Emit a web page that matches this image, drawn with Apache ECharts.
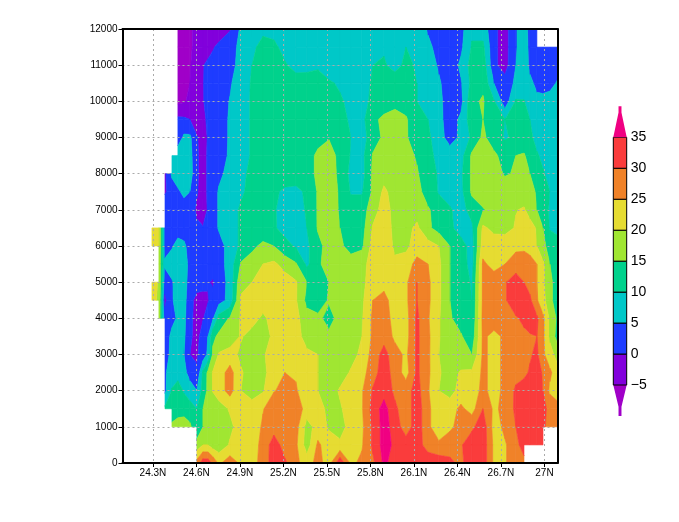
<!DOCTYPE html>
<html><head><meta charset="utf-8">
<style>html,body{margin:0;padding:0;background:#fff}#c{width:679px;height:522px}</style>
<script src="https://cdn.jsdelivr.net/npm/echarts@6/dist/echarts.min.js"></script></head>
<body><div id="c"></div>
<script>
const N = null;
const lons = [24.293,24.341,24.383,24.431,24.472,24.514,24.555,24.603,24.645,24.679,24.714,24.755,24.831,24.907,24.983,25.059,25.134,25.210,25.286,25.362,25.438,25.514,25.590,25.666,25.741,25.817,25.893,25.969,26.045,26.121,26.197,26.272,26.348,26.424,26.500,26.576,26.652,26.728,26.803,26.859,26.900,26.948,26.990,27.038,27.090];
const heights = [12000,11500,11000,10500,10000,9500,9000,8500,8000,7500,7000,6500,6000,5500,5000,4500,4000,3500,3000,2500,2000,1500,1000,500,0];
const lonTicks = [24.3,24.6,24.9,25.2,25.5,25.8,26.1,26.4,26.7,27.0];
const levels = [-5,0,5,10,15,20,25,30,35];
const bandColors = ['#A000C8','#8200DC','#1E3CFF','#00C8C8','#00D28C','#A0E632','#E6DC32','#F08228','#FA3C3C','#F00082'];

const h12000 = [N,N,N,N,-7,-7,-6,-3,-2.5,-2,-2,-2,-0.5,6,8,9,8.5,8,8,8,8,8,8,8,8,8.5,8.5,8,9,8,4.5,2,2,3.5,9,8,1,-2,4.5,8,3,1,N,N,N];
const h11500 = [N,N,N,N,-7,-7,-6,-3,-2.2,-1.5,-0.3,0.8,3.5,6,9,11.5,11,8.5,8,8,8,8,8,8,8.5,9.5,9.5,8.5,10,9,6,3.5,3,4,10.5,11,1,-2,4.5,8,3.5,2,2,2,3];
const h11000 = [N,N,N,N,-7,-6.5,-5.5,-1,-0.2,0.8,1.2,2,4,6,10,12.5,12.5,10.5,8.5,9,9.5,8,8,8,8.5,10,10.5,8.5,11,9.5,7,4.5,2,6,12,13,1,-2,5,8,4,2,2,2,3];
const h10500 = [N,N,N,N,-7,-6,-5,-1,-0.2,1.5,2,3,4.5,7.5,10.5,12,12.5,12.5,12,11.5,11.5,10.5,9.5,8,8.5,10.5,12,12.5,12,10,8,5.5,3,4.5,11.5,14,5,2,6,8,6,4,3,3.5,5.5];
const h10000 = [N,N,N,N,-6,-5.5,-4,-1.5,-0.2,1,2,3,5.2,8,10.5,12,13,13,12.5,12,11,10.5,10.5,9,8.5,11,12.5,13,13,10,8.5,6,3,3.5,14,15.5,10.5,2,10.5,10.2,8,6,6.5,7,7.5];
const h9500  = [N,N,N,N,1,0.8,0,-2,-0.7,0.5,1.5,3,5.5,8,10.5,12.5,13,13,13,12.5,12,11.5,11,9.5,8.5,14,16,17.5,15.5,12,10,6.5,2.5,6,13,15,12,10,11.5,11.5,10,8,7.5,7.5,7.5];
const h9000  = [N,N,N,N,2,6,6,0.3,-1.5,0.3,1.5,3,5.5,8,10.5,12.5,13,13,13.5,13.5,14.2,14.8,11,10,8,12.5,16,17.5,15.5,12.5,11,7,3,6,11,16,12.5,9.5,11,12,11,8.5,8,8.5,7.5];
const h8500  = [N,N,N,7.5,8.5,8.5,7,0.5,-1.5,0.5,2,3.5,5.5,8,10.5,12.5,13,13,13.5,14,15.5,16.5,14,9.5,8.5,15.5,17,17.5,16.5,14.5,11,9,7.5,8,16,17.5,16,13,15,15.5,13,10.5,9,8,8];
const h8000  = [N,N,-1,6,8.5,9,7.5,0.5,-1.5,0.5,2,4,6.5,9,11,12.5,13,13,13,14,15.5,17,14,8.5,8,16,18,18,18,15.5,12,9.5,8,9,16,18,17,14.5,15.5,16.5,15,12,10.5,8.5,8];
const h7500  = [N,N,-0.5,2,4,6.5,5,0.3,-1.5,0.5,3,5.5,7.5,9.5,11,12,11,9,8.5,11,15.5,17,14.5,9.5,9.5,16,21,18,18,16.5,13,9.5,8,8.5,16,18,18,18,17.5,17.5,16.5,14.5,12,10,8];
const h7000  = [N,N,3,3,2.5,2,1.5,-0.5,-1.5,0.3,3,5.5,8.5,10.5,11,11.5,10.5,8,8,10.5,15.5,17.5,14.5,12.5,12.5,18,22,18.5,18,18,15.5,13,10.5,8,12,14.5,17.5,18.5,19.8,20.5,18,15,12,9.5,8];
const h6500  = [22,20,3,2.5,2.5,2.5,2,0.5,0.2,1.5,3,5.5,8.5,10.5,11.5,12,10.5,8.5,8,10,15.5,18,15,12.5,13,20.5,22,19,18.5,21,16,13,11,8,9,21,18.5,18,20.5,22.5,22,19.5,15,9.5,8];
const h6000  = [22,20,3,4.5,7,6,3,2.5,2.5,2.5,3,3,7,11,14,16,15,11.5,9.5,9,13.5,17,16,13,14,22,23.5,19,19,22,22,20,15,12,8,22.5,23,23.5,24,24,23,20,16,13.5,13];
const h5500  = [N,18,6,7.5,7.5,6.5,4,3,2.5,2.5,2.5,3,7,15.5,17,20,21,18,15.5,9,14,17.5,17.5,17.5,18.5,22,23,21,22,27,25,21,15,12.5,8,26,23,25,27,27.5,27,25,21,15,13];
const h5000  = [22,19.5,2,4.5,7.5,6.5,3.5,2,1.5,0.3,-0.5,2.5,6.5,19,20,21.5,22,22.5,20.5,15,13.5,15,17,17.5,19,22,23,22.5,24,30,26,21,15,12.5,9.5,26,28,29.5,33,30,28,25,21,16,13];
const h4500  = [22,19,-1,4.5,7,7,1.5,-1.5,-1.5,-0.3,1.5,3,6.5,20.5,22,22.5,23,23,20.5,13.5,12.5,15.5,17,17.5,19,25,27,22,24,30,26,21,15,12.5,10,26,28,29.5,33,33,31,25.5,22,16,13];
const h4000  = [N,18,2,4,5.5,6.5,1,-1.5,-0.2,1.5,4.5,12,15.5,20.5,22,19,22,23,21.5,17,16,13.5,16.5,17.5,19.5,26,27.5,23,23,31,25.5,20.5,15.5,13,10.5,26.5,28,28.5,29.5,31,32.5,31,26,19,14];
const h3500  = [N,N,3,6,7,6,0.5,-1,1.5,5,14,16,17,20.5,18,18,21,22.5,22,18,17.5,16,17,17.5,20,26,28,24,23,31,26,20.5,15.5,15.5,12,26,23.5,26,27.5,29,29.5,30,26,19,13];
const h3000  = [N,N,3.5,6,7,5,0,-0.5,2,6,16,20.5,22,19,18,19.5,22,23,21.5,21,20,18,17.5,18.5,21,27,32,27,24,31,26,20,17,17,15,26,23.5,26,27.5,28.5,29.5,31,26,22,18];
const h2500  = [N,N,4.5,7,7.5,6.5,3,0.5,11,16,20.5,22.5,27,20.5,18,19,22,25,24.5,22,20,18,18,20.5,23,28,32.5,28,23,31,26,20.5,18,20.5,21,26,23.5,26,28,29,30.5,32,29.5,26,22];
const h2000  = [N,N,4,10.5,13,9.5,7.5,5,12,16,20.3,22.5,27,20,18,19.5,24.8,26,25.5,22,20,18,20.5,22,24.5,30.5,33,29,28,32,25.5,20,18,22,23,26,23.5,26,31,32,33,32,30,24,21];
const h1500  = [N,N,11,12,13,13,12,10,15,16.5,17,18,20.5,20.5,22,24.8,27,28,28,23,21.5,19,19.5,22,24.5,32,37,31,27,33,26,22,23,26,23,30,24,26.5,31,33,33,32.5,31,29,28];
const h1000  = [N,N,N,16,17,17.5,16,11,15,17.5,18,18.5,19,22,23,25.5,27.5,28,27,18,22,19.5,18,22,24,31,37,33,27,33,26,22,24,27,29,33,23,26,30,33,33,33,31,28,28];
const h500   = [N,N,N,N,N,N,N,17,20,20,17.5,17,20.5,22.5,23.5,26,33,27.5,26,17.5,26,22,21,22.5,24.5,31,37,34,33,32,28,26,28,29.5,33,33,24,24.5,28,33,33,33,32,N,N];
const h0     = [N,N,N,N,N,N,N,27,33,33,29,24,28,24,23.5,26.5,33,31,26,23,26.5,23,34,24,26,29,36,33,33,33,33,33,31,29,33,33,24,24.5,28,28,N,N,N,N,N];
const speed = [h12000,h11500,h11000,h10500,h10000,h9500,h9000,h8500,h8000,h7500,h7000,h6500,h6000,h5500,h5000,h4500,h4000,h3500,h3000,h2500,h2000,h1500,h1000,h500,h0];

const cells = [];
for (let r = 0; r < heights.length - 1; r++) {
  for (let c = 0; c < lons.length - 1; c++) {
    const a = speed[r][c], b = speed[r][c+1], d = speed[r+1][c+1], e = speed[r+1][c];
    if (a === N || b === N || d === N || e === N) continue;
    cells.push([lons[c], lons[c+1], heights[r], heights[r+1], a, b, d, e]);
  }
}
function clip(poly, limit, keepAbove) {
  const out = [];
  for (let i = 0; i < poly.length; i++) {
    const p = poly[i], q = poly[(i+1) % poly.length];
    const pin = keepAbove ? p[2] >= limit : p[2] <= limit;
    const qin = keepAbove ? q[2] >= limit : q[2] <= limit;
    if (pin) out.push(p);
    if (pin !== qin) {
      const t = (limit - p[2]) / (q[2] - p[2]);
      out.push([p[0] + t*(q[0]-p[0]), p[1] + t*(q[1]-p[1]), limit]);
    }
  }
  return out;
}
function renderCell(params, api) {
  const x0 = api.value(0), x1 = api.value(1), y0 = api.value(2), y1 = api.value(3);
  const tl = api.coord([x0,y0]), tr = api.coord([x1,y0]), br = api.coord([x1,y1]), bl = api.coord([x0,y1]);
  const quad = [[tl[0],tl[1],api.value(4)],[tr[0],tr[1],api.value(5)],[br[0],br[1],api.value(6)],[bl[0],bl[1],api.value(7)]];
  const children = [];
  for (let b = 0; b < bandColors.length; b++) {
    const lo = b === 0 ? -1e3 : levels[b-1];
    const hi = b === levels.length ? 1e3 : levels[b];
    let poly = clip(quad, lo, true);
    if (poly.length) poly = clip(poly, hi, false);
    if (poly.length > 2) children.push({type:'polygon', shape:{points:poly.map(p=>[p[0],p[1]])},
      style:{fill:bandColors[b], stroke:bandColors[b], lineWidth:0.6}, silent:true});
  }
  return {type:'group', children};
}
function renderKey(params, api) {
  const lo = api.value(0), hi = api.value(1), color = bandColors[api.value(2)];
  const pt = (x, v) => api.coord([x, v]);
  if (lo < -5) {
    return {type:'polygon', shape:{points:[pt(0,-5),pt(0.39,-8.5),pt(0.39,-10),pt(0.61,-10),pt(0.61,-8.5),pt(1,-5)]}, style:{fill:color}};
  }
  if (hi > 35) {
    return {type:'polygon', shape:{points:[pt(0,35),pt(0.39,39),pt(0.39,40),pt(0.61,40),pt(0.61,39),pt(1,35)]}, style:{fill:color}};
  }
  const a = pt(0,hi), b = pt(1,lo);
  return {type:'rect', shape:{x:a[0], y:a[1], width:b[0]-a[0], height:b[1]-a[1]}, style:{fill:color, stroke:'#000', lineWidth:1}};
}
const keyData = bandColors.map((c,i) => [i === 0 ? -10 : levels[i-1], i === levels.length ? 40 : levels[i], i]);
const tickFont = {fontFamily:'Liberation Sans', fontSize:10, color:'#000'};
const chart = echarts.init(document.getElementById('c'), null, {renderer:'canvas'});
chart.setOption({
  animation:false, backgroundColor:'#fff',
  grid:[
    {left:122.5, top:29, width:435, height:434},
    {left:613.3, top:137.3, width:13.4, height:247.7}
  ],
  xAxis:[
    {type:'value', min:24.09, max:27.09, z:5, gridIndex:0, position:'bottom',
     axisLine:{onZero:false, lineStyle:{color:'#000', width:2}},
     axisTick:{show:true, length:4, customValues:lonTicks, lineStyle:{color:'#000'}},
     axisLabel:{...tickFont, margin:5, customValues:lonTicks, formatter:v => (Number(v) === 27 ? '27' : Number(v).toFixed(1)) + 'N'},
     splitLine:{show:true, lineStyle:{color:'#aaa', type:[2,3], width:1}}},
    {type:'value', min:24.09, max:27.09, z:5, gridIndex:0, position:'top',
     axisLine:{onZero:false, lineStyle:{color:'#000', width:2}}, axisTick:{show:false}, axisLabel:{show:false}, splitLine:{show:false}},
    {type:'value', min:0, max:1, gridIndex:1, show:false}
  ],
  yAxis:[
    {type:'value', min:0, max:12000, interval:1000, z:5, gridIndex:0, position:'left',
     axisLine:{onZero:false, lineStyle:{color:'#000', width:2}},
     axisTick:{show:true, length:4, lineStyle:{color:'#000'}},
     axisLabel:{...tickFont, margin:5, formatter:v => String(v)},
     splitLine:{show:true, lineStyle:{color:'#aaa', type:[2,3], width:1}}},
    {type:'value', min:0, max:12000, interval:1000, z:5, gridIndex:0, position:'right',
     axisLine:{onZero:false, lineStyle:{color:'#000', width:2}}, axisTick:{show:false}, axisLabel:{show:false}, splitLine:{show:false}},
    {type:'value', min:-5, max:35, interval:5, gridIndex:1, position:'right',
     axisLine:{show:false}, axisTick:{show:false}, splitLine:{show:false},
     axisLabel:{fontFamily:'Liberation Sans', fontSize:14, color:'#000', margin:4, formatter:v => String(v).replace('-','\u2212')}}
  ],
  series:[
    {type:'custom', xAxisIndex:0, yAxisIndex:0, z:1, silent:true, data:cells, renderItem:renderCell,
     encode:{x:[0,1], y:[2,3]}, progressive:0},
    {type:'custom', xAxisIndex:2, yAxisIndex:2, z:1, silent:true, clip:false, data:keyData, renderItem:renderKey,
     encode:{y:[0,1]}, progressive:0}
  ]
});
</script></body></html>
